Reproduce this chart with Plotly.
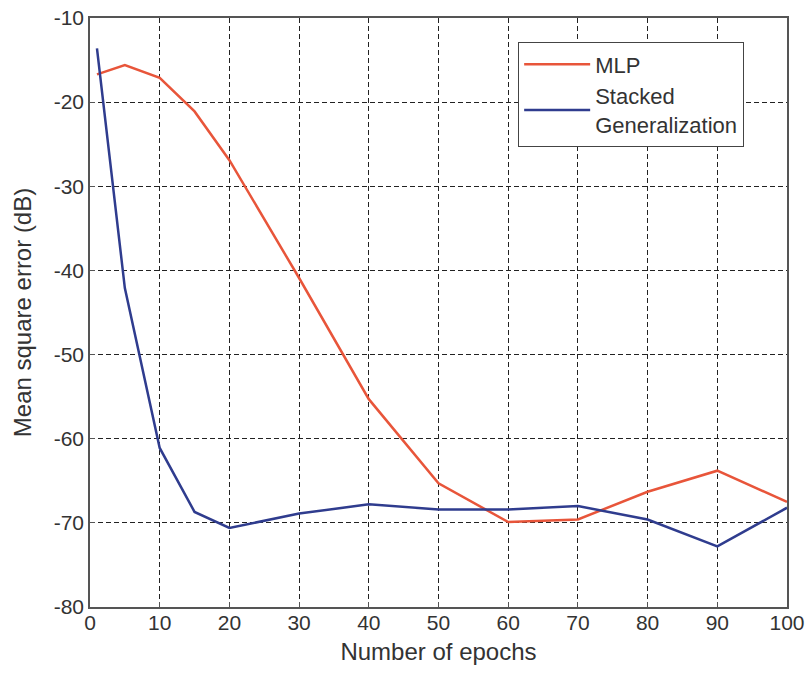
import plotly.graph_objects as go

epochs = [1, 5, 10, 15, 20, 30, 40, 50, 60, 70, 80, 90, 100]
mlp = [-16.7, -15.6, -17.1, -21.1, -26.9, -40.9, -55.3, -65.3, -69.9, -69.6, -66.3, -63.8, -67.5]
stacked = [-13.6, -42.1, -61.1, -68.7, -70.6, -68.9, -67.8, -68.4, -68.4, -68.0, -69.6, -72.8, -68.2]
x_ticks = [0, 10, 20, 30, 40, 50, 60, 70, 80, 90, 100]
y_ticks = [-80, -70, -60, -50, -40, -30, -20, -10]
y_tick_labels = ["-80", "-70", "-60", "-50", "-40", "-30", "-20", "-10"]

fig = go.Figure()
fig.add_trace(go.Scatter(x=epochs, y=mlp, mode="lines", name="MLP",
                         line=dict(color="#E8553A", width=2.5)))
fig.add_trace(go.Scatter(x=epochs, y=stacked, mode="lines", name="Stacked<br>Generalization",
                         line=dict(color="#2F3C8E", width=2.5)))

axis_common = dict(showline=True, mirror=True, linecolor="#555555", linewidth=1.5,
                   showgrid=True, gridcolor="#222222", griddash="5px,3px", gridwidth=1,
                   ticks="inside", ticklen=5, tickcolor="#555555", automargin=False,
                   tickfont=dict(size=21, color="#333333"), zeroline=False)

fig.update_xaxes(range=[0, 100], tickvals=x_ticks, ticklabelstandoff=-4,
                 title=dict(text="Number of epochs", font=dict(size=24, color="#333333"), standoff=10),
                 **axis_common)
fig.update_yaxes(range=[-80, -10], tickvals=y_ticks, ticktext=y_tick_labels,
                 title=dict(text="Mean square error (dB)", font=dict(size=24, color="#333333"), standoff=15),
                 **axis_common)

fig.update_layout(
    width=811, height=675,
    margin=dict(l=90, r=24, t=18, b=68),
    paper_bgcolor="white", plot_bgcolor="white",
    font=dict(family="Liberation Sans, Arial, sans-serif", color="#333333"),
    legend=dict(x=0.614, y=0.959, xanchor="left", yanchor="top",
                bgcolor="white", bordercolor="#444444", borderwidth=1.2,
                font=dict(size=22, color="#333333"), tracegroupgap=0, itemwidth=66),
    showlegend=True,
)

fig.write_html("out.html")
